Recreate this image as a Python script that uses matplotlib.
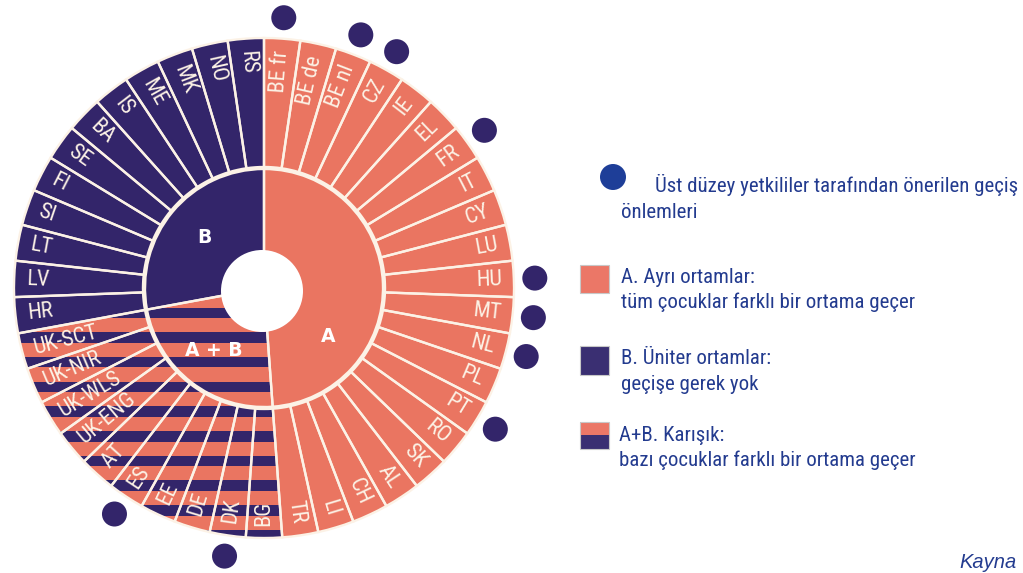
import numpy as np
import matplotlib
matplotlib.use("Agg")
import matplotlib.pyplot as plt
from matplotlib.patches import Wedge, Circle, Rectangle
from matplotlib import font_manager as fm

# ---------------- data ----------------
group_a = ["BE fr", "BE de", "BE nl", "CZ", "IE", "EL", "FR", "IT", "CY", "LU",
           "HU", "MT", "NL", "PL", "PT", "RO", "SK", "AL", "CH", "LI", "TR"]
group_ab = ["BG", "DK", "DE", "EE", "ES", "AT", "UK-ENG", "UK-WLS", "UK-NIR", "UK-SCT"]
group_b = ["HR", "LV", "LT", "SI", "FI", "SE", "BA", "IS", "ME", "MK", "NO", "RS"]
group_names = ["A", "A + B", "B"]
recommended = ["BE fr", "BE nl", "CZ", "FR", "HU", "MT", "NL", "PT", "DK", "ES"]

legend_dot_text = ["Üst düzey yetkililer tarafından önerilen geçiş", "önlemleri"]
legend_a = ["A. Ayrı ortamlar:", "tüm çocuklar farklı bir ortama geçer"]
legend_b = ["B. Üniter ortamlar:", "geçişe gerek yok"]
legend_ab = ["A+B. Karışık:", "bazı çocuklar farklı bir ortama geçer"]
source_text = "Kayna"

# ---------------- fonts ----------------
def find_narrow():
    prefs = ["Liberation Sans Narrow", "Arial Narrow", "Roboto Condensed",
             "Open Sans Condensed", "Noto Sans Condensed", "DejaVu Sans Condensed"]
    bad = ["bold", "light", "thin", "black", "medium", "semi", "extra",
           "italic", "oblique", "heavy", "mono", "serif", "cjk"]
    entries = fm.fontManager.ttflist
    for p in prefs:
        for e in entries:
            if e.name == p and e.style == "normal" and e.weight in (400, "normal", "regular"):
                return e.fname
    for e in entries:
        key = (e.name + " " + e.fname.split("/")[-1]).lower()
        if ("condensed" in key or "narrow" in key or e.stretch == "condensed") \
                and not any(b in key for b in bad) and e.style == "normal":
            return e.fname
    return None

narrow_path = find_narrow()

def narrow(size):
    if narrow_path:
        return fm.FontProperties(fname=narrow_path, size=size)
    return fm.FontProperties(family=["Liberation Sans", "DejaVu Sans"], size=size * 0.86)

# ---------------- style ----------------
CORAL = "#EA7561"
NAVY = "#33256A"
LINE = "#FCF2E6"
LEG_BLUE = "#1E3E98"
LEG_TEXT = "#233B8F"

W, H = 1023, 573
cx, cy = 264, 288
R_OUT, R_SEG_IN, R_RING, R_HOLE = 250, 121, 119, 41
LABEL_R = 238
DOT_R, DOT_SIZE = 271, 12.5

fig = plt.figure(figsize=(W / 100, H / 100), dpi=100)
ax = fig.add_axes([0, 0, 1, 1])
ax.set_xlim(0, W)
ax.set_ylim(H, 0)
ax.axis("off")

countries = group_a + group_ab + group_b
n = len(countries)
step = 360.0 / n
groups = [(group_a, CORAL), (group_ab, CORAL), (group_b, NAVY)]

def pos(theta, r):
    t = np.radians(theta)
    return cx + r * np.sin(t), cy - r * np.cos(t)

# group regions (fills)
start = 0
group_spans = []
for members, col in groups:
    a0 = start * step
    a1 = (start + len(members)) * step
    group_spans.append((a0, a1))
    w = Wedge((cx, cy), R_OUT, a0 - 90, a1 - 90, facecolor=col, edgecolor="none")
    ax.add_patch(w)
    if members is group_ab:
        ab_patch = w
    start += len(members)

# stripes for mixed group
period, band, offset = 24.7, 10.5, 19.5
for k in range(int(np.ceil(R_OUT / period)) + 1):
    y0 = cy + offset + k * period
    r = Rectangle((cx - R_OUT - 5, y0), 2 * R_OUT + 10, band,
                  facecolor=NAVY, edgecolor="none")
    ax.add_patch(r)
    r.set_clip_path(ab_patch)

# separating annulus between rings
ax.add_patch(Wedge((cx, cy), R_SEG_IN, 0, 360, width=R_SEG_IN - R_RING,
                   facecolor=LINE, edgecolor="none"))

# country segment outlines
for i, c in enumerate(countries):
    a0, a1 = i * step, (i + 1) * step
    ax.add_patch(Wedge((cx, cy), R_OUT, a0 - 90, a1 - 90, width=R_OUT - R_SEG_IN,
                       facecolor="none", edgecolor=LINE, linewidth=1.7))

# inner ring outlines
for (a0, a1) in group_spans:
    ax.add_patch(Wedge((cx, cy), R_RING, a0 - 90, a1 - 90, width=R_RING - R_HOLE + 6,
                       facecolor="none", edgecolor=LINE, linewidth=1.7))

# centre hole
ax.add_patch(Circle((cx - 2, cy + 3), R_HOLE, facecolor="white", edgecolor="none"))

# country labels
for i, c in enumerate(countries):
    th = (i + 0.5) * step
    x, y = pos(th, LABEL_R)
    if th < 180:
        rot, ha = 90 - th, "right"
    else:
        rot, ha = 270 - th, "left"
    ax.text(x, y, c, rotation=rot, rotation_mode="anchor", ha=ha, va="center",
            color=LINE, fontproperties=narrow(16))

# group labels
group_label_pos = [(127, 80), (219, 80), (310, 78)]
for name, (th, r) in zip(group_names, group_label_pos):
    x, y = pos(th, r)
    ax.text(x, y, name, ha="center", va="center", color="white",
            fontsize=13.5, fontweight="bold", family=["DejaVu Sans"])

# recommended-measure dots
for c in recommended:
    i = countries.index(c)
    x, y = pos((i + 0.5) * step, DOT_R)
    ax.add_patch(Circle((x, y), DOT_SIZE, facecolor=NAVY, edgecolor="none"))

# ---------------- legend ----------------
lfs = 15
ax.add_patch(Circle((613, 177), 13, facecolor=LEG_BLUE, edgecolor="none"))
ax.text(655, 192, legend_dot_text[0], color=LEG_TEXT, fontproperties=narrow(lfs), va="baseline")
ax.text(621, 218, legend_dot_text[1], color=LEG_TEXT, fontproperties=narrow(lfs), va="baseline")

ax.add_patch(Rectangle((580, 265), 29, 28, facecolor="#EB7767", edgecolor="#C8C8C8", linewidth=0.8))
ax.text(621, 283, legend_a[0], color=LEG_TEXT, fontproperties=narrow(lfs), va="baseline")
ax.text(621, 308, legend_a[1], color=LEG_TEXT, fontproperties=narrow(lfs), va="baseline")

ax.add_patch(Rectangle((580, 346), 29, 29, facecolor="#3A2F72", edgecolor="#C8C8C8", linewidth=0.8))
ax.text(621, 364, legend_b[0], color=LEG_TEXT, fontproperties=narrow(lfs), va="baseline")
ax.text(621, 390, legend_b[1], color=LEG_TEXT, fontproperties=narrow(lfs), va="baseline")

ax.add_patch(Rectangle((580, 422), 29, 13, facecolor="#EB7767", edgecolor="none"))
ax.add_patch(Rectangle((580, 435), 29, 14, facecolor="#3A2F72", edgecolor="none"))
ax.add_patch(Rectangle((580, 422), 29, 27, facecolor="none", edgecolor="#C8C8C8", linewidth=0.8))
ax.text(619, 441, legend_ab[0], color=LEG_TEXT, fontproperties=narrow(lfs), va="baseline")
ax.text(619, 466, legend_ab[1], color=LEG_TEXT, fontproperties=narrow(lfs), va="baseline")

ax.text(959, 568, source_text, color=LEG_TEXT, fontsize=14.5, style="italic",
        family=["Liberation Sans", "DejaVu Sans"], va="baseline")

fig.savefig("out.png", dpi=100)
